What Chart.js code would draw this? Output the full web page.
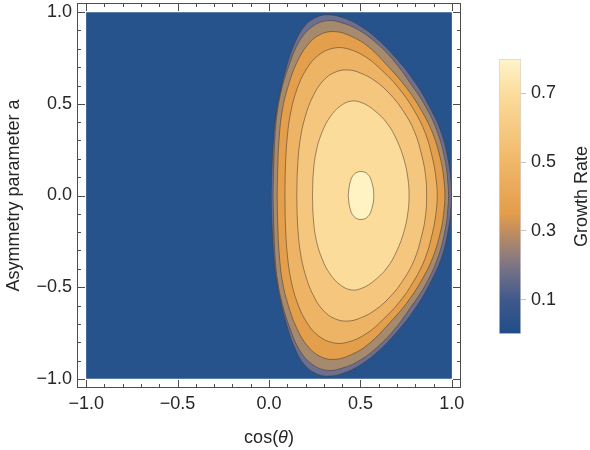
<!DOCTYPE html>
<html>
<head>
<meta charset="utf-8">
<script src="https://cdn.jsdelivr.net/npm/chart.js@4/dist/chart.umd.min.js"></script>
<style>
  body { margin: 0; background: #fff; }
  #wrap { position: relative; width: 590px; height: 450px; }
  #wrap canvas { position: absolute; left: 0; top: 0; }
</style>
</head>
<body>
<div id="wrap">
  <canvas id="plot" width="590" height="450"></canvas>
  <canvas id="legend" width="590" height="450"></canvas>
</div>
<script>
// ---------- data ----------
const xTicks = [-1, -0.5, 0, 0.5, 1];
const yTicks = [-1, -0.5, 0, 0.5, 1];
const minorTicks = [-0.9, -0.8, -0.7, -0.6, -0.4, -0.3, -0.2, -0.1, 0.1, 0.2, 0.3, 0.4, 0.6, 0.7, 0.8, 0.9];

const contourLevels = [0.1, 0.2, 0.3, 0.4, 0.5, 0.6, 0.7];
const cbLines = [0.1, 0.2, 0.3, 0.4, 0.5, 0.6, 0.7];
const cbLabels = [0.1, 0.3, 0.5, 0.7];
const cbMax = 0.8;

// whole domain, lowest band (0 - 0.1)
const domain = [[-1, -1], [1, -1], [1, 1], [-1, 1], [-1, -1]];

// contour lines, each a closed loop (x = cos(theta), y = a)
const level01 = [[0.012, 0], [0.017, 0.17], [0.026, 0.33], [0.038, 0.44], [0.06, 0.56], [0.095, 0.7], [0.14, 0.83], [0.195, 0.925], [0.265, 0.975], [0.335, 0.985], [0.41, 0.968], [0.49, 0.93], [0.58, 0.865], [0.69, 0.755], [0.8, 0.615], [0.88, 0.48], [0.945, 0.335], [0.982, 0.18], [0.995, 0.07], [0.998, 0],
  [0.995, -0.07], [0.982, -0.18], [0.945, -0.335], [0.88, -0.48], [0.8, -0.615], [0.69, -0.755], [0.58, -0.865], [0.49, -0.93], [0.41, -0.968], [0.335, -0.985], [0.265, -0.975], [0.195, -0.925], [0.14, -0.83], [0.095, -0.7], [0.06, -0.56], [0.038, -0.44], [0.026, -0.33], [0.017, -0.17], [0.012, 0]];
const level02 = [[0.022, 0], [0.026, 0.17], [0.033, 0.33], [0.047, 0.467], [0.073, 0.594], [0.113, 0.72], [0.165, 0.84], [0.235, 0.92], [0.32, 0.954], [0.405, 0.94], [0.49, 0.903], [0.58, 0.838], [0.68, 0.738], [0.775, 0.61], [0.858, 0.483], [0.925, 0.335], [0.965, 0.18], [0.978, 0.07], [0.982, 0],
  [0.978, -0.07], [0.965, -0.18], [0.925, -0.335], [0.858, -0.483], [0.775, -0.61], [0.68, -0.738], [0.58, -0.838], [0.49, -0.903], [0.405, -0.94], [0.32, -0.954], [0.235, -0.92], [0.165, -0.84], [0.113, -0.72], [0.073, -0.594], [0.047, -0.467], [0.033, -0.33], [0.026, -0.17], [0.022, 0]];
const level03 = [[0.045, 0], [0.048, 0.16], [0.056, 0.32], [0.073, 0.467], [0.104, 0.594], [0.15, 0.72], [0.21, 0.82], [0.28, 0.878], [0.36, 0.894], [0.45, 0.868], [0.545, 0.81], [0.655, 0.7], [0.75, 0.59], [0.83, 0.47], [0.895, 0.34], [0.94, 0.19], [0.957, 0.08], [0.962, 0],
  [0.957, -0.08], [0.94, -0.19], [0.895, -0.34], [0.83, -0.47], [0.75, -0.59], [0.655, -0.7], [0.545, -0.81], [0.45, -0.868], [0.36, -0.894], [0.28, -0.878], [0.21, -0.82], [0.15, -0.72], [0.104, -0.594], [0.073, -0.467], [0.056, -0.32], [0.048, -0.16], [0.045, 0]];
const level04 = [[0.087, 0], [0.09, 0.16], [0.1, 0.32], [0.12, 0.46], [0.155, 0.585], [0.205, 0.69], [0.27, 0.765], [0.35, 0.803], [0.43, 0.8], [0.53, 0.755], [0.62, 0.68], [0.71, 0.585], [0.79, 0.47], [0.855, 0.34], [0.897, 0.19], [0.915, 0.08], [0.92, 0],
  [0.915, -0.08], [0.897, -0.19], [0.855, -0.34], [0.79, -0.47], [0.71, -0.585], [0.62, -0.68], [0.53, -0.755], [0.43, -0.8], [0.35, -0.803], [0.27, -0.765], [0.205, -0.69], [0.155, -0.585], [0.12, -0.46], [0.1, -0.32], [0.09, -0.16], [0.087, 0]];
const level05 = [[0.152, 0], [0.156, 0.15], [0.17, 0.3], [0.198, 0.43], [0.24, 0.54], [0.295, 0.625], [0.36, 0.672], [0.43, 0.685], [0.5, 0.668], [0.58, 0.625], [0.66, 0.555], [0.735, 0.46], [0.795, 0.35], [0.835, 0.22], [0.856, 0.11], [0.862, 0],
  [0.856, -0.11], [0.835, -0.22], [0.795, -0.35], [0.735, -0.46], [0.66, -0.555], [0.58, -0.625], [0.5, -0.668], [0.43, -0.685], [0.36, -0.672], [0.295, -0.625], [0.24, -0.54], [0.198, -0.43], [0.17, -0.3], [0.156, -0.15], [0.152, 0]];
const level06 = [[0.238, 0], [0.242, 0.12], [0.258, 0.24], [0.29, 0.345], [0.335, 0.43], [0.39, 0.488], [0.45, 0.515], [0.51, 0.505], [0.575, 0.465], [0.645, 0.395], [0.7, 0.3], [0.74, 0.19], [0.76, 0.09], [0.766, 0],
  [0.76, -0.09], [0.74, -0.19], [0.7, -0.3], [0.645, -0.395], [0.575, -0.465], [0.51, -0.505], [0.45, -0.515], [0.39, -0.488], [0.335, -0.43], [0.29, -0.345], [0.258, -0.24], [0.242, -0.12], [0.238, 0]];
const level07 = [[0.433, 0], [0.443, 0.07], [0.465, 0.115], [0.503, 0.131], [0.541, 0.115], [0.563, 0.07], [0.573, 0],
  [0.563, -0.07], [0.541, -0.115], [0.503, -0.131], [0.465, -0.115], [0.443, -0.07], [0.433, 0]];

const contourShapes = [level01, level02, level03, level04, level05, level06, level07];

// ---------- styles ----------
const FONT = 'Liberation Sans, Arial, Helvetica, sans-serif';
const TEXT = '#262626';
const FRAME = '#4d4d4d';
const LINE = 'rgba(70, 55, 40, 0.6)';
// fill of each band: 0-0.1, 0.1-0.2, ... 0.7-0.8
const bandColors = ['#26538b', '#6b6f91', '#a68a6e', '#e39f4c', '#eeb465', '#f5c77e', '#fcdc9b', '#fff2c3'];
const cbStops = [[0, '#1f4c88'], [0.1, '#40598c'], [0.2, '#7d7585'], [0.3, '#c18e5e'], [0.35, '#e39d4b'], [0.5, '#f0b768'], [0.6, '#f6ca82'], [0.7, '#fcdc9c'], [0.8, '#fff5cb']];

const fmt = v => v.toFixed(1).replace('-', '\u2212');
const pts = arr => arr.map(([x, y]) => ({ x, y }));

// ---------- main contour plot ----------
const datasets = [{
  label: 'domain',
  data: pts(domain),
  showLine: true,
  fill: 'shape',
  backgroundColor: bandColors[0],
  borderWidth: 0,
  pointRadius: 0,
  tension: 0,
  order: 20
}];
contourShapes.forEach((shape, i) => {
  datasets.push({
    label: String(contourLevels[i]),
    data: pts(shape),
    showLine: true,
    fill: 'shape',
    backgroundColor: bandColors[i + 1],
    borderColor: LINE,
    borderWidth: 0.9,
    pointRadius: 0,
    tension: 0.4,
    order: 10 - i
  });
});

const framePlugin = {
  id: 'frame',
  afterDatasetsDraw(chart) {
    const { ctx, chartArea: a, scales: { x, y } } = chart;
    ctx.save();
    ctx.strokeStyle = FRAME;
    ctx.lineWidth = 1;
    ctx.strokeRect(Math.round(a.left) + 0.5, Math.round(a.top) + 0.5, Math.round(a.right - a.left) - 1, Math.round(a.bottom - a.top) - 1);
    const mark = (vals, len) => {
      ctx.beginPath();
      vals.forEach(v => {
        const px = Math.round(x.getPixelForValue(v)) + 0.5;
        ctx.moveTo(px, a.bottom); ctx.lineTo(px, a.bottom - len);
        ctx.moveTo(px, a.top); ctx.lineTo(px, a.top + len);
        const py = Math.round(y.getPixelForValue(v)) + 0.5;
        ctx.moveTo(a.left, py); ctx.lineTo(a.left + len, py);
        ctx.moveTo(a.right, py); ctx.lineTo(a.right - len, py);
      });
      ctx.stroke();
    };
    mark(xTicks, 8);
    mark(minorTicks, 4);
    ctx.restore();
  },
  afterDraw(chart) {
    const { ctx, chartArea: a } = chart;
    ctx.save();
    ctx.fillStyle = TEXT;
    ctx.textBaseline = 'middle';
    // x title: cos(θ) with italic theta
    const up = '18px ' + FONT, it = 'italic 18px ' + FONT;
    ctx.font = up;
    const w1 = ctx.measureText('cos(').width, w3 = ctx.measureText(')').width;
    ctx.font = it;
    const w2 = ctx.measureText('\u03b8').width;
    let cx = (a.left + a.right) / 2 - (w1 + w2 + w3) / 2;
    const ty = 438;
    ctx.textAlign = 'left';
    ctx.font = up; ctx.fillText('cos(', cx, ty); cx += w1;
    ctx.font = it; ctx.fillText('\u03b8', cx, ty); cx += w2;
    ctx.font = up; ctx.fillText(')', cx, ty);
    // y title
    ctx.translate(14, (a.top + a.bottom) / 2);
    ctx.rotate(-Math.PI / 2);
    ctx.textAlign = 'center';
    ctx.fillText('Asymmetry parameter a', 0, 0);
    ctx.restore();
  }
};

const tickFont = { family: FONT, size: 18 };

new Chart(document.getElementById('plot'), {
  type: 'scatter',
  data: { datasets },
  options: {
    responsive: false,
    animation: false,
    events: [],
    layout: { padding: { top: 3, right: 129, left: 0, bottom: 0 } },
    plugins: { legend: { display: false }, tooltip: { enabled: false } },
    scales: {
      x: {
        type: 'linear', min: -1.05, max: 1.05,
        afterBuildTicks: s => { s.ticks = xTicks.map(v => ({ value: v })); },
        afterFit: s => { s.height = 62; s.paddingLeft = 0; s.paddingRight = 0; },
        ticks: { callback: fmt, font: tickFont, color: TEXT, padding: 5, maxRotation: 0, autoSkip: false },
        grid: { display: false, drawTicks: false },
        border: { display: false }
      },
      y: {
        type: 'linear', min: -1.05, max: 1.05,
        afterBuildTicks: s => { s.ticks = yTicks.map(v => ({ value: v })); },
        afterFit: s => { s.width = 77; s.paddingTop = 0; s.paddingBottom = 0; },
        ticks: { callback: fmt, font: tickFont, color: TEXT, padding: 5, autoSkip: false },
        grid: { display: false, drawTicks: false },
        border: { display: false }
      }
    }
  },
  plugins: [framePlugin]
});

// ---------- colour bar legend ----------
const cbTitle = {
  id: 'cbTitle',
  afterDraw(chart) {
    const { ctx, chartArea: a } = chart;
    ctx.save();
    ctx.fillStyle = TEXT;
    ctx.font = '18px ' + FONT;
    ctx.textAlign = 'center';
    ctx.textBaseline = 'middle';
    ctx.translate(582, (a.top + a.bottom) / 2);
    ctx.rotate(-Math.PI / 2);
    ctx.fillText('Growth Rate', 0, 0);
    ctx.restore();
  }
};

new Chart(document.getElementById('legend'), {
  type: 'bar',
  data: {
    labels: ['Growth Rate'],
    datasets: [{
      data: [cbMax],
      backgroundColor: c => {
        const a = c.chart.chartArea;
        if (!a) return bandColors[0];
        const g = c.chart.ctx.createLinearGradient(0, a.bottom, 0, a.top);
        cbStops.forEach(([v, col]) => g.addColorStop(v / cbMax, col));
        return g;
      },
      borderColor: '#d4d4d4',
      borderWidth: 1,
      borderSkipped: false,
      barPercentage: 1,
      categoryPercentage: 1
    }]
  },
  options: {
    responsive: false,
    animation: false,
    events: [],
    layout: { padding: { left: 499, top: 59, bottom: 116, right: 0 } },
    plugins: { legend: { display: false }, tooltip: { enabled: false } },
    scales: {
      x: { display: false },
      y: {
        position: 'right', min: 0, max: cbMax, z: 1,
        afterBuildTicks: s => { s.ticks = cbLines.map(v => ({ value: v })); },
        afterFit: s => { s.width = 69; s.paddingTop = 0; s.paddingBottom = 0; },
        ticks: { callback: v => cbLabels.includes(v) ? v.toFixed(1) : '', font: tickFont, color: TEXT, padding: 5 },
        grid: {
          color: LINE,
          lineWidth: 1,
          tickLength: 5,
          tickColor: c => cbLabels.includes(c.tick && c.tick.value) ? '#c4c4c4' : 'rgba(0,0,0,0)'
        },
        border: { display: false }
      }
    }
  },
  plugins: [cbTitle]
});
</script>
</body>
</html>
